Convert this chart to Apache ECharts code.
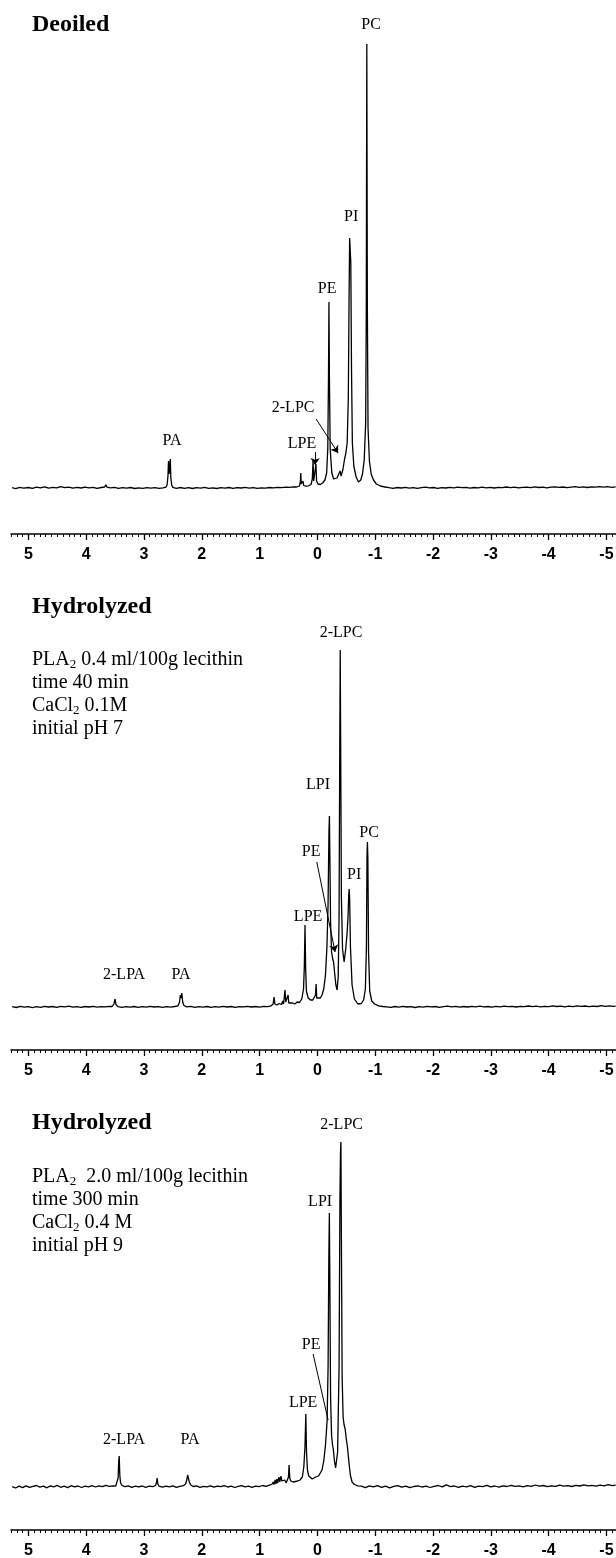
<!DOCTYPE html>
<html style="height: 100%">
<head>
<meta charset="utf-8">
</head>
<body style="height: 100%; margin: 0; background: #fff">
<div id="container" style="width: 616px; height: 1558px"></div>
<script type="text/javascript" src="https://cdn.jsdelivr.net/npm/echarts@6.0.0/dist/echarts.min.js"></script>
<script type="text/javascript">
// 31P NMR spectra, chemical shift (ppm) vs intensity (arbitrary units, baseline = 0)
var majorTicks = [5, 4, 3, 2, 1, 0, -1, -2, -3, -4, -5];

// Deoiled lecithin
var deoiled = [
  [5.28, 0.4], [5.22, -0.6], [5.15, 0.7], [5.08, -0.2], [5.0, 0.5], [4.93, -0.4], [4.86, 0.9], [4.79, 0.1],
  [4.72, 1.1], [4.65, -0.1], [4.58, 0.6], [4.51, 0.2], [4.44, 1.3], [4.37, 0.3], [4.3, 0.9], [4.23, -0.2],
  [4.16, 0.6], [4.09, 0.0], [4.02, 0.8], [3.95, 0.1], [3.88, 0.7], [3.81, -0.3], [3.74, 0.5], [3.68, 1.0],
  [3.66, 3.2], [3.64, 0.8], [3.58, 0.1], [3.51, 0.6], [3.44, -0.4], [3.37, 0.3], [3.3, -0.2], [3.23, 0.5],
  [3.16, -0.5], [3.09, 0.2], [3.02, -0.3], [2.95, 0.4], [2.88, -0.2], [2.81, 0.3], [2.74, -0.4], [2.67, 0.2],
  [2.62, 0.8], [2.6, 3], [2.585, 12], [2.575, 27], [2.565, 14], [2.555, 20], [2.545, 29], [2.535, 10], [2.52, 3], [2.5, 0.6],
  [2.44, -0.3], [2.37, 0.5], [2.3, -0.4], [2.23, 0.3], [2.16, -0.5], [2.09, 0.4], [2.02, -0.2], [1.95, 0.6],
  [1.88, -0.4], [1.81, 0.2], [1.74, -0.5], [1.67, 0.3], [1.6, -0.1], [1.53, 0.5], [1.46, -0.3], [1.39, 0.4],
  [1.32, 0.0], [1.25, 0.6], [1.18, -0.2], [1.11, 0.3], [1.04, -0.4], [0.97, 0.2], [0.9, -0.1], [0.83, 0.5],
  [0.76, 0.1], [0.69, 0.7], [0.62, 0.3], [0.55, 0.8], [0.48, 0.6], [0.42, 1.1], [0.36, 1.0],
  [0.31, 2], [0.295, 6], [0.287, 15], [0.279, 4], [0.26, 2.5], [0.248, 7], [0.238, 2.5], [0.2, 1.8],
  [0.15, 2.2], [0.11, 3.5], [0.088, 9], [0.075, 27], [0.064, 7], [0.048, 5.5], [0.036, 9], [0.025, 24], [0.014, 7],
  [-0.01, 4], [-0.05, 3.5], [-0.09, 5], [-0.13, 8], [-0.16, 15], [-0.18, 40], [-0.192, 110], [-0.2, 186], [-0.208, 110], [-0.222, 38],
  [-0.25, 15], [-0.28, 9], [-0.31, 7], [-0.34, 10], [-0.37, 14], [-0.393, 17], [-0.41, 12], [-0.44, 18],
  [-0.47, 29], [-0.49, 34], [-0.515, 45], [-0.535, 90], [-0.548, 190], [-0.558, 250], [-0.568, 251], [-0.578, 225], [-0.59, 120], [-0.605, 45],
  [-0.63, 22], [-0.67, 11], [-0.71, 6], [-0.75, 8], [-0.78, 14], [-0.81, 28], [-0.835, 65], [-0.846, 180], [-0.855, 444], [-0.864, 185], [-0.876, 60],
  [-0.9, 27], [-0.93, 14], [-0.97, 8], [-1.02, 4], [-1.09, 2], [-1.17, 1],
  [-1.24, 0.3], [-1.31, -0.3], [-1.38, 0.5], [-1.45, 0.0], [-1.52, 0.6], [-1.59, -0.2], [-1.66, 0.4], [-1.73, -0.4],
  [-1.8, 0.3], [-1.87, 0.8], [-1.94, 0.1], [-2.01, 0.5], [-2.08, -0.3], [-2.15, 0.4], [-2.22, 0.0], [-2.29, 0.7],
  [-2.36, 0.2], [-2.43, 0.9], [-2.5, 0.3], [-2.57, 0.6], [-2.64, -0.1], [-2.71, 0.5], [-2.78, 0.1], [-2.85, 0.8],
  [-2.92, 0.2], [-2.99, 0.6], [-3.06, 0.0], [-3.13, 0.7], [-3.2, 0.3], [-3.27, 1.0], [-3.34, 0.4], [-3.41, 0.8],
  [-3.48, 0.1], [-3.55, 0.6], [-3.62, 0.9], [-3.69, 0.3], [-3.76, 1.1], [-3.83, 0.5], [-3.9, 0.9], [-3.97, 0.2],
  [-4.04, 0.8], [-4.11, 1.2], [-4.18, 0.6], [-4.25, 1.0], [-4.32, 0.4], [-4.39, 0.9], [-4.46, 1.3], [-4.53, 0.7],
  [-4.6, 1.1], [-4.67, 0.5], [-4.74, 1.2], [-4.81, 0.8], [-4.88, 1.4], [-4.95, 0.9], [-5.02, 1.3], [-5.09, 0.7], [-5.16, 1.1]
];

// Hydrolyzed: PLA2 0.4 ml/100g, 40 min
var hydro40 = [
  [5.28, 0.3], [5.21, -0.5], [5.14, 0.6], [5.07, -0.2], [5.0, 0.4], [4.93, -0.6], [4.86, 0.3], [4.79, -0.3],
  [4.72, 0.7], [4.65, 0.0], [4.58, 0.5], [4.51, -0.4], [4.44, 0.6], [4.37, 0.1], [4.3, 0.8], [4.23, -0.2],
  [4.16, 0.4], [4.09, -0.3], [4.02, 0.5], [3.95, 0.0], [3.88, 0.6], [3.81, -0.2], [3.74, 0.4], [3.67, 0.1],
  [3.6, 0.7], [3.55, 0.5], [3.52, 3], [3.5, 8], [3.485, 2.5], [3.45, 0.4], [3.38, -0.3], [3.31, 0.4], [3.24, -0.1],
  [3.17, 0.5], [3.1, -0.4], [3.03, 0.3], [2.96, -0.2], [2.89, 0.6], [2.82, 0.0], [2.75, 0.4], [2.68, -0.3],
  [2.61, 0.3], [2.54, -0.1], [2.47, 0.5], [2.41, 1.2], [2.385, 5], [2.37, 12], [2.355, 9], [2.345, 14], [2.33, 5], [2.31, 1.5],
  [2.26, 0.2], [2.19, 0.6], [2.12, -0.3], [2.05, 0.4], [1.98, -0.1], [1.91, 0.5], [1.84, -0.4], [1.77, 0.3],
  [1.7, -0.2], [1.63, 0.6], [1.56, 0.0], [1.49, 0.5], [1.42, -0.3], [1.35, 0.4], [1.28, 0.1], [1.21, 0.7],
  [1.14, 0.0], [1.07, 0.5], [1.0, -0.2], [0.93, 0.6], [0.86, 0.3], [0.8, 1.2],
  [0.765, 3], [0.75, 10], [0.735, 3], [0.7, 2], [0.66, 3.5], [0.62, 2.5], [0.6, 6], [0.585, 3], [0.57, 5], [0.56, 17], [0.548, 5],
  [0.53, 6], [0.515, 4], [0.507, 12], [0.495, 4], [0.47, 3], [0.43, 4], [0.39, 3], [0.35, 5], [0.31, 4.5], [0.27, 8],
  [0.24, 18], [0.226, 40], [0.214, 82], [0.203, 38], [0.19, 16], [0.16, 9], [0.12, 7], [0.08, 7], [0.05, 9], [0.033, 12],
  [0.022, 23], [0.012, 9], [-0.02, 8], [-0.05, 9], [-0.08, 12], [-0.11, 18], [-0.14, 32], [-0.165, 60], [-0.185, 104],
  [-0.2, 175], [-0.208, 191], [-0.216, 150], [-0.228, 85], [-0.245, 55], [-0.265, 48], [-0.28, 45], [-0.3, 33], [-0.32, 22],
  [-0.341, 17], [-0.36, 30], [-0.375, 90], [-0.387, 260], [-0.395, 357], [-0.403, 260], [-0.415, 110], [-0.435, 58], [-0.462, 45],
  [-0.49, 58], [-0.514, 74], [-0.53, 90], [-0.542, 112], [-0.55, 118], [-0.558, 108], [-0.572, 60], [-0.6, 22], [-0.64, 8],
  [-0.7, 3], [-0.76, 3.5], [-0.8, 7], [-0.83, 18], [-0.848, 60], [-0.858, 150], [-0.865, 165], [-0.873, 150], [-0.885, 55],
  [-0.905, 16], [-0.94, 6], [-0.99, 3], [-1.06, 1.2], [-1.13, 0.5],
  [-1.2, 0.2], [-1.27, -0.4], [-1.34, 0.5], [-1.41, -0.1], [-1.48, 0.6], [-1.55, 0.0], [-1.62, 0.4], [-1.69, -0.5],
  [-1.76, 0.3], [-1.83, -0.2], [-1.9, 0.7], [-1.97, 0.1], [-2.04, 0.5], [-2.11, -0.3], [-2.18, 0.4], [-2.25, 0.9],
  [-2.32, 0.2], [-2.39, 0.6], [-2.46, -0.2], [-2.53, 0.5], [-2.6, 0.0], [-2.67, 0.7], [-2.74, 0.2], [-2.81, 0.8],
  [-2.88, 0.1], [-2.95, 0.5], [-3.02, -0.2], [-3.09, 0.6], [-3.16, 0.2], [-3.23, 0.9], [-3.3, 0.3], [-3.37, 0.7],
  [-3.44, 0.0], [-3.51, 0.6], [-3.58, 0.3], [-3.65, 1.0], [-3.72, 0.4], [-3.79, 0.8], [-3.86, 0.1], [-3.93, 0.7],
  [-4.0, 0.3], [-4.07, 1.1], [-4.14, 0.5], [-4.21, 0.9], [-4.28, 0.2], [-4.35, 0.8], [-4.42, 0.4], [-4.49, 1.2],
  [-4.56, 0.6], [-4.63, 1.0], [-4.7, 0.3], [-4.77, 0.9], [-4.84, 0.5], [-4.91, 1.3], [-4.98, 0.7], [-5.05, 1.1], [-5.12, 0.6], [-5.16, 0.9]
];

// Hydrolyzed: PLA2 2.0 ml/100g, 300 min
var hydro300 = [
  [5.28, 0.3], [5.22, -1.0], [5.16, 0.8], [5.1, -0.6], [5.04, 1.2], [4.98, -0.4], [4.92, 0.6], [4.86, 1.5],
  [4.8, -0.2], [4.74, 0.9], [4.68, -0.8], [4.62, 1.1], [4.56, 0.2], [4.5, 1.6], [4.44, -0.3], [4.38, 0.8],
  [4.32, -0.6], [4.26, 1.3], [4.2, 0.1], [4.14, 1.0], [4.08, -0.5], [4.02, 0.9], [3.96, 0.2], [3.9, 1.4],
  [3.84, 0.0], [3.78, 1.1], [3.72, 0.4], [3.66, 1.7], [3.6, 0.6], [3.54, 1.2], [3.49, 0.8],
  [3.465, 2], [3.447, 9], [3.437, 26], [3.428, 31], [3.418, 12], [3.405, 4], [3.38, 1.5],
  [3.33, 0.3], [3.27, 1.1], [3.21, -0.4], [3.15, 0.9], [3.09, 0.2], [3.03, 1.0], [2.97, -0.3], [2.91, 0.8], [2.85, 0.3], [2.8, 1.5],
  [2.785, 4], [2.772, 9], [2.76, 3], [2.74, 0.8],
  [2.68, -0.2], [2.62, 0.9], [2.56, 0.1], [2.5, 1.2], [2.44, -0.3], [2.38, 0.7], [2.32, 1.3],
  [2.28, 3], [2.26, 7], [2.245, 12], [2.232, 10], [2.215, 5], [2.19, 2],
  [2.15, 0.5], [2.09, 1.1], [2.03, -0.4], [1.97, 0.7], [1.91, 0.1], [1.85, 1.2], [1.79, -0.2], [1.73, 0.8],
  [1.67, 0.3], [1.61, 1.4], [1.55, 0.0], [1.49, 0.9], [1.43, -0.5], [1.37, 0.6], [1.31, 1.3], [1.25, 0.2],
  [1.19, 0.9], [1.13, -0.3], [1.07, 0.8], [1.01, 0.4], [0.95, 1.5], [0.89, 0.6], [0.83, 1.8],
  [0.79, 2.5], [0.765, 5], [0.75, 2.5], [0.73, 7], [0.715, 3], [0.7, 8], [0.685, 4], [0.665, 10], [0.65, 5],
  [0.63, 11], [0.615, 6], [0.59, 5], [0.565, 7], [0.54, 4], [0.515, 6], [0.5, 10], [0.49, 22], [0.478, 9],
  [0.46, 6], [0.42, 5], [0.38, 5.5], [0.34, 6], [0.3, 7], [0.26, 10], [0.235, 20], [0.215, 40], [0.2, 73],
  [0.188, 35], [0.172, 17], [0.15, 11], [0.12, 9], [0.09, 8], [0.06, 9], [0.03, 10], [0.005, 12], [-0.02, 11],
  [-0.05, 13], [-0.08, 17], [-0.11, 26], [-0.14, 42], [-0.168, 66], [-0.185, 120], [-0.198, 230], [-0.207, 274],
  [-0.216, 200], [-0.228, 90], [-0.245, 52], [-0.262, 42], [-0.275, 38], [-0.295, 26], [-0.315, 19], [-0.328, 18],
  [-0.35, 35], [-0.375, 120], [-0.39, 290], [-0.4, 335], [-0.407, 345], [-0.415, 250], [-0.428, 110], [-0.445, 70],
  [-0.462, 62], [-0.48, 58], [-0.5, 48], [-0.52, 40], [-0.545, 25], [-0.57, 12], [-0.6, 5], [-0.64, 2.5], [-0.7, 1.2],
  [-0.76, 0.8], [-0.83, -0.6], [-0.9, 1.1], [-0.97, 0.2], [-1.04, 1.4], [-1.11, -0.3], [-1.18, 0.9], [-1.25, -0.8],
  [-1.32, 0.6], [-1.39, 1.3], [-1.46, -0.2], [-1.53, 0.8], [-1.6, -0.7], [-1.67, 0.5], [-1.74, 1.2], [-1.81, 0.0],
  [-1.88, 0.9], [-1.95, -0.5], [-2.02, 0.7], [-2.09, 1.5], [-2.16, 0.1], [-2.23, 2.2], [-2.3, 0.3], [-2.37, 1.0],
  [-2.44, -0.4], [-2.51, 0.8], [-2.58, 0.2], [-2.65, 1.3], [-2.72, -0.3], [-2.79, 0.9], [-2.86, 0.4], [-2.93, 1.6],
  [-3.0, 0.2], [-3.07, 1.0], [-3.14, -0.2], [-3.21, 1.2], [-3.28, 0.5], [-3.35, 1.7], [-3.42, 0.6], [-3.49, 1.1],
  [-3.56, 0.2], [-3.63, 1.4], [-3.7, 0.7], [-3.77, 2.0], [-3.84, 0.8], [-3.91, 1.5], [-3.98, 0.4], [-4.05, 1.2],
  [-4.12, 0.6], [-4.19, 1.8], [-4.26, 0.9], [-4.33, 1.4], [-4.4, 0.5], [-4.47, 1.6], [-4.54, 1.0], [-4.61, 2.1],
  [-4.68, 1.2], [-4.75, 1.7], [-4.82, 0.8], [-4.89, 1.9], [-4.96, 1.1], [-5.03, 2.3], [-5.1, 1.3], [-5.16, 1.8]
];

// peak names: [text, ppm, height of label centre]
var labels1 = [['PC', -0.93, 463], ['PI', -0.583, 271], ['PE', -0.168, 199], ['2-LPC', 0.42, 80], ['LPE', 0.265, 44], ['PA', 2.514, 47]];
var labels2 = [['2-LPC', -0.41, 374], ['LPI', -0.012, 222], ['PE', 0.109, 155], ['PI', -0.635, 132], ['PC', -0.894, 174], ['LPE', 0.161, 90], ['2-LPA', 3.344, 32], ['PA', 2.36, 32]];
var labels3 = [['2-LPC', -0.419, 362], ['LPI', -0.047, 285], ['PE', 0.109, 142], ['LPE', 0.247, 84], ['2-LPA', 3.344, 47], ['PA', 2.202, 47]];

// pointer lines: [ppm from, height from, ppm to, height to, arrow head]
var pointers1 = [[0.04, 36, 0.04, 23, true], [0.022, 69, -0.358, 35, true]];
var pointers2 = [[0.01, 145, -0.306, 55, true]];
var pointers3 = [[0.074, 133, -0.185, 67, false]];

var serif = "'Times New Roman', 'Liberation Serif', serif";
var sans = "Arial, 'Liberation Sans', Helvetica, sans-serif";

var dom = document.getElementById("container");
var myChart = echarts.init(dom, null, { renderer: 'canvas' });

function majorAxis(gi) {
    return {
        gridIndex: gi, type: 'value', position: 'bottom', inverse: true, min: -5.2, max: 5.3,
        axisLine: { show: true, onZero: false, lineStyle: { color: '#000', width: 1.5 } },
        axisTick: { show: true, length: 6, customValues: majorTicks, lineStyle: { color: '#000', width: 1.3 } },
        axisLabel: { show: true, customValues: majorTicks, margin: 13, fontSize: 16, fontWeight: 'bold', color: '#000', fontFamily: sans },
        splitLine: { show: false }
    };
}
function minorAxis(gi) {
    return {
        gridIndex: gi, type: 'value', position: 'bottom', offset: 0, inverse: true, min: -5.2, max: 5.3, interval: 0.1,
        axisLine: { show: false, onZero: false },
        axisTick: { show: true, length: 3, lineStyle: { color: '#000', width: 1 } },
        axisLabel: { show: false },
        splitLine: { show: false }
    };
}
function spectrum(idx, data, labels, pointers) {
    return {
        type: 'line', xAxisIndex: idx * 2, yAxisIndex: idx, data: data,
        showSymbol: false, symbol: 'none', smooth: false,
        lineStyle: { color: '#000', width: 1.3 },
        markPoint: {
            symbol: 'circle', symbolSize: 1, silent: true,
            itemStyle: { color: 'rgba(0,0,0,0)' },
            label: { show: true, position: 'inside', formatter: '{b}', color: '#000', fontFamily: serif, fontSize: 16 },
            data: labels.map(function (l) { return { name: l[0], coord: [l[1], l[2]] }; })
        },
        markLine: {
            silent: true, symbolSize: 7,
            label: { show: false },
            lineStyle: { color: '#000', width: 1, type: 'solid' },
            data: pointers.map(function (p) {
                return [{ coord: [p[0], p[1]], symbol: 'none' }, { coord: [p[2], p[3]], symbol: p[4] ? 'arrow' : 'none' }];
            })
        }
    };
}

var condStyle = {
    fontFamily: serif, fontSize: 20, fontWeight: 'normal', color: '#000', lineHeight: 23,
    rich: { s: { fontFamily: serif, fontSize: 13, color: '#000', padding: [10, 0, 0, 0] } }
};
var headStyle = { fontFamily: serif, fontSize: 24, fontWeight: 'bold', color: '#000' };

option = {
    animation: false,
    backgroundColor: '#fff',
    title: [
        { text: 'Deoiled', left: 32, top: 13, padding: 0, textStyle: headStyle },
        { text: 'Hydrolyzed', left: 32, top: 595, padding: 0, textStyle: headStyle },
        { text: 'PLA{s|2} 0.4 ml/100g lecithin\ntime 40 min\nCaCl{s|2} 0.1M\ninitial pH 7', left: 32, top: 648, padding: 0, textStyle: condStyle },
        { text: 'Hydrolyzed', left: 32, top: 1111, padding: 0, textStyle: headStyle },
        { text: 'PLA{s|2}  2.0 ml/100g lecithin\ntime 300 min\nCaCl{s|2} 0.4 M\ninitial pH 9', left: 32, top: 1165, padding: 0, textStyle: condStyle }
    ],
    grid: [
        { left: 11, width: 607, top: 10, height: 524, containLabel: false, outerBoundsMode: 'none' },
        { left: 11, width: 607, top: 560, height: 490, containLabel: false, outerBoundsMode: 'none' },
        { left: 11, width: 607, top: 1060, height: 470, containLabel: false, outerBoundsMode: 'none' }
    ],
    xAxis: [majorAxis(0), minorAxis(0), majorAxis(1), minorAxis(1), majorAxis(2), minorAxis(2)],
    yAxis: [
        { gridIndex: 0, type: 'value', min: -46, max: 478, show: false },
        { gridIndex: 1, type: 'value', min: -43, max: 447, show: false },
        { gridIndex: 2, type: 'value', min: -43, max: 427, show: false }
    ],
    series: [
        spectrum(0, deoiled, labels1, pointers1),
        spectrum(1, hydro40, labels2, pointers2),
        spectrum(2, hydro300, labels3, pointers3)
    ]
};

if (option && typeof option === "object") {
    myChart.setOption(option, true);
}
</script>
</body>
</html>
